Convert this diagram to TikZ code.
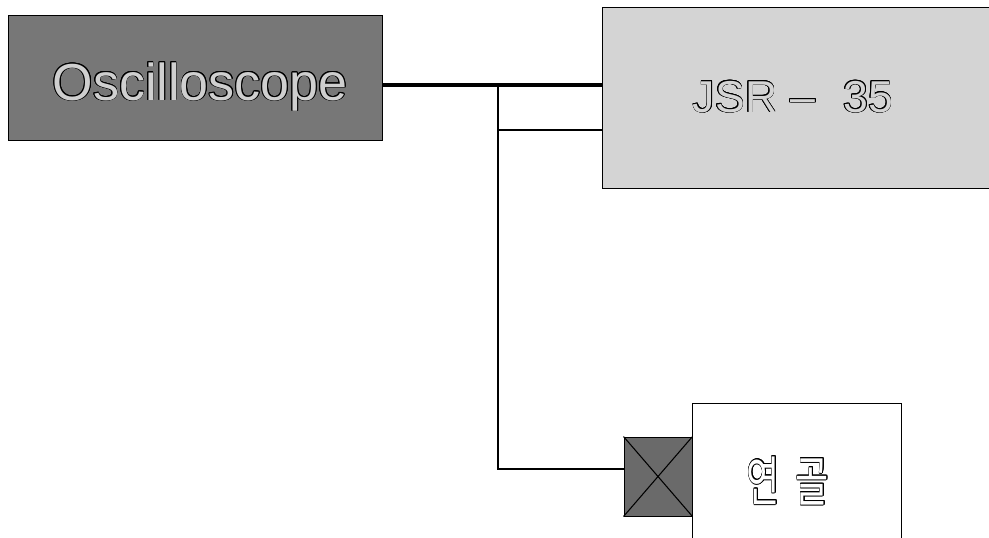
\documentclass[tikz,border=0pt]{standalone}
\usepackage{fontspec}
\setmainfont{Liberation Sans}
\newfontfamily\krfont{Noto Sans CJK KR}
\usepackage{graphicx}
\usepackage{contour}
\usetikzlibrary{positioning}
\definecolor{oscGray}{HTML}{777777}
\definecolor{jsrGray}{HTML}{D4D4D4}
\definecolor{probeGray}{HTML}{6A6A6A}
\definecolor{lblGray}{HTML}{CFCFCF}
\contourlength{0.5pt}

\begin{document}
\begin{tikzpicture}[x=0.75pt, y=-0.75pt,
    box/.style={draw, line width=0.75pt, inner sep=0pt},
    lbl/.style={anchor=base, inner sep=0pt},
    wire/.style={line width=0.8pt},
    bigwire/.style={line width=3pt}]
  \useasboundingbox (0,0) rectangle (989,537);
  % instruments
  \node[box, fill=oscGray, minimum width=280.5pt, minimum height=93.75pt] (osc) at (195,77.5) {};
  \node[box, fill=jsrGray, minimum width=290.25pt, minimum height=135.75pt] (jsr) at (795.5,97.5) {};
  \node[box, fill=white, minimum width=156.75pt, minimum height=135pt] (cart) at (796.5,493) {};
  \node[box, fill=probeGray, minimum width=51pt, minimum height=59.25pt] (probe) at (658,476.5) {};
  \draw[wire] (probe.north west) -- (probe.south east)
              (probe.south west) -- (probe.north east);
  % labels
  \node[lbl, text=lblGray] (osctxt) at (200,100)
    {\fontsize{39}{44}\selectfont\contour{black}{Oscilloscope}};
  \node[lbl, text=jsrGray] (jsrtxt) at (793,112)
    {\fontsize{33.5}{40}\selectfont\contour{black}{JSR\hspace{10pt}\textendash\hspace{21pt}35}};
  \node[lbl, text=white] (carttxt) at (788,501)
    {\scalebox{1}[1.5]{\krfont\fontsize{27}{30}\selectfont\contour{black}{연\hspace{12pt}골}}};
  % cables
  \coordinate (tap) at (498,85);
  \coordinate (tapb) at (498,130);
  \coordinate (bend) at (498,469);
  \draw[bigwire] (tap -| osc.east) -- (tap -| jsr.west);
  \draw[wire] (tapb) -- (tapb -| jsr.west);
  \draw[wire] (tap) -- (bend) -- (bend -| probe.west);
\end{tikzpicture}
\end{document}
